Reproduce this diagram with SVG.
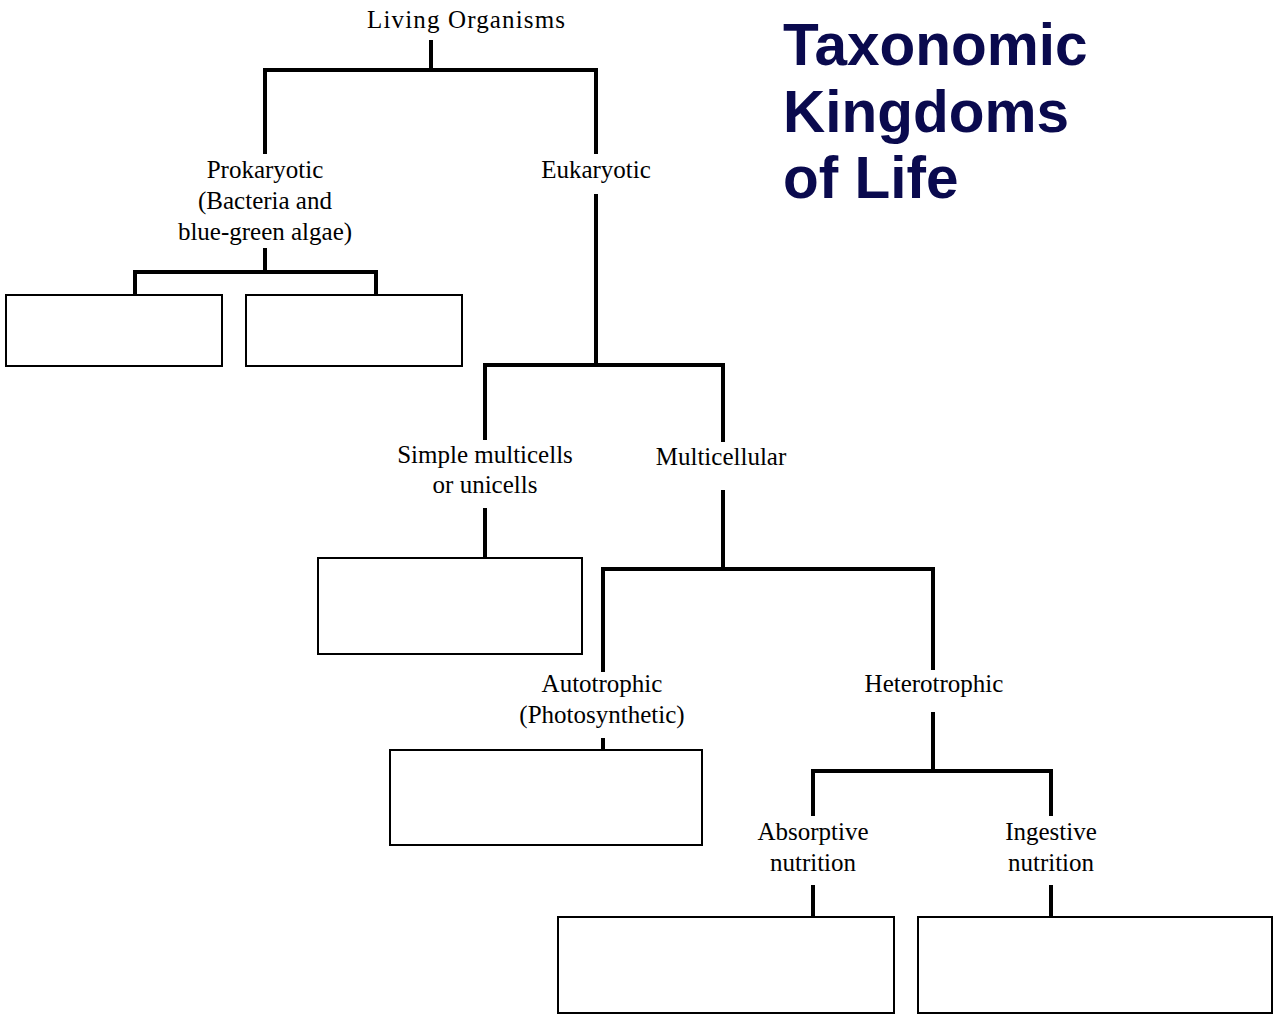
<svg xmlns="http://www.w3.org/2000/svg" width="1273" height="1015" viewBox="0 0 1273 1015">
<style>
.lbl{font-family:"Liberation Serif","Times New Roman",serif;font-size:25px;fill:#000;text-anchor:middle}
.ttl{font-family:"Liberation Sans",Arial,sans-serif;font-size:58.5px;font-weight:bold;fill:#0a0a4e}
.c{stroke:#000;stroke-width:4;fill:none;stroke-linecap:square}
.box{fill:#fff;stroke:#000;stroke-width:2}
</style>
<rect width="1273" height="1015" fill="#fff"/>
<g id="connectors">
<path class="c" d="M431 42V70M265 152V70H596V152"/>
<path class="c" d="M265 250V272M135 293V272H376V293"/>
<path class="c" d="M596 196V365M485 438V365H723V440"/>
<path class="c" d="M485 510V557"/>
<path class="c" d="M723 492V568M603 670V569H933V668"/>
<path class="c" d="M603 740V749"/>
<path class="c" d="M933 714V770M813 814V771H1051V814"/>
<path class="c" d="M813 887V916M1051 887V916"/>
</g>
<g id="title">
<text class="ttl" x="783" y="65">Taxonomic</text>
<text class="ttl" x="783" y="132">Kingdoms</text>
<text class="ttl" x="783" y="198">of Life</text>
</g>
<g id="living"><text class="lbl" x="466" y="28" textLength="198" lengthAdjust="spacing">Living Organisms</text></g>
<g id="prokaryotic"><text class="lbl" x="265" y="178">Prokaryotic</text><text class="lbl" x="265" y="209">(Bacteria and</text><text class="lbl" x="265" y="240">blue-green algae)</text></g>
<g id="eukaryotic"><text class="lbl" x="596" y="178">Eukaryotic</text></g>
<g id="box1"><rect class="box" x="6" y="295" width="216" height="71"/></g>
<g id="box2"><rect class="box" x="246" y="295" width="216" height="71"/></g>
<g id="simple"><text class="lbl" x="485" y="463">Simple multicells</text><text class="lbl" x="485" y="493">or unicells</text></g>
<g id="multicellular"><text class="lbl" x="721" y="465">Multicellular</text></g>
<g id="box3"><rect class="box" x="318" y="558" width="264" height="96"/></g>
<g id="autotrophic"><text class="lbl" x="602" y="692">Autotrophic</text><text class="lbl" x="602" y="723">(Photosynthetic)</text></g>
<g id="heterotrophic"><text class="lbl" x="934" y="692">Heterotrophic</text></g>
<g id="box4"><rect class="box" x="390" y="750" width="312" height="95"/></g>
<g id="absorptive"><text class="lbl" x="813" y="840">Absorptive</text><text class="lbl" x="813" y="871">nutrition</text></g>
<g id="ingestive"><text class="lbl" x="1051" y="840">Ingestive</text><text class="lbl" x="1051" y="871">nutrition</text></g>
<g id="box5"><rect class="box" x="558" y="917" width="336" height="96"/></g>
<g id="box6"><rect class="box" x="918" y="917" width="354" height="96"/></g>
</svg>
